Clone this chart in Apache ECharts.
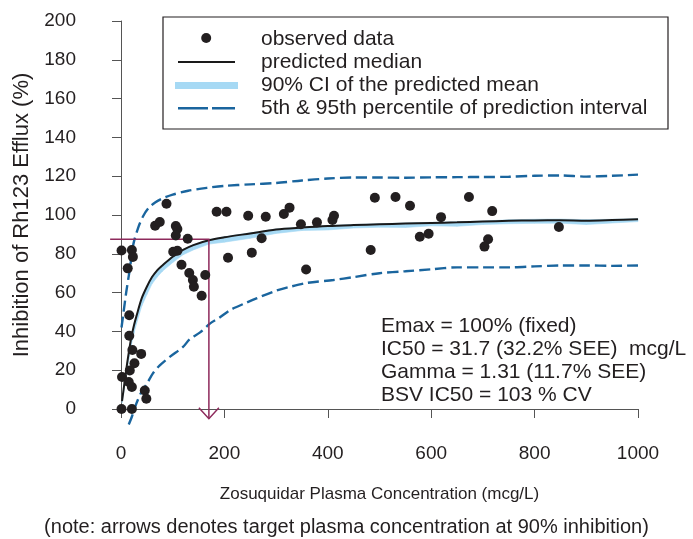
<!DOCTYPE html>
<html><head><meta charset="utf-8">
<script src="https://cdn.jsdelivr.net/npm/echarts@6/dist/echarts.min.js"></script>
<style>html,body{margin:0;padding:0;background:#fff}#c{width:693px;height:539px}</style>
</head><body><div id="c"></div>
<script>
// Observed data
const obsX = [1,21,23,13,16,16,22,39,26,17,2,15,21,46,49,1,21,88,66,75,106,109,106,129,101,109,117,132,139,141,156,163,185,204,207,246,253,272,280,315,326,348,358,379,409,412,483,491,531,559,578,595,619,673,718,710,703,847];
const obsY = [81.7,82,78.4,72.5,48.3,37.8,30.4,28.4,23.6,19.8,16.5,13.9,11.3,9.5,5.3,0,0,105.8,94.5,96.4,94.3,92.8,89.4,87.8,81.1,81.6,74.4,70.1,66.5,63,58.4,69.1,101.7,101.7,78,99.6,80.6,88,99.1,100.5,103.8,95.2,71.9,96.2,97.4,99.6,82,108.9,109.3,104.8,88.8,90.3,98.9,109.3,102,87.5,83.7,93.8];

// Predicted median and 90% CI of predicted mean
const curveX   = [2,5,10,15,20,25,30,40,50,60,70,80,100,120,140,170,200,250,300,350,400,450,500,550,600,650,700,750,800,850,900,950,1000];
const medianY  = [4,10,20,29,37,43,48,57,63,68,71.5,74,78.5,82,84.5,87,88.5,90.5,92.5,93.5,94.3,94.8,95.2,95.6,95.9,96.2,96.6,97,97.2,97.3,97.1,97.4,97.8];
const ciLowerY = [3,8,17,25.5,33,39,44,53,59,64.5,68,71,75.5,79.5,82,85,86,88,90.5,92,92.3,93.3,93.7,93.6,94.4,94.2,95.1,95.5,95.7,95.8,95.1,95.9,96.6];
const ciUpperY = [4.3,10.3,20.3,29.3,37.3,43.3,48.3,57.3,63.3,68.3,71.8,74.3,78.8,82.3,84.8,87.3,88.8,90.8,92.8,93.8,94.6,95.1,95.5,95.9,96.2,96.5,96.9,97.5,97.8,97.9,97.6,97.8,98.1];

// 5th & 95th percentile of prediction interval
const upperPIX = [1,5,10,17,24,34,43,53,66,80,100,130,166,200,250,300,350,400,450,500,550,600,650,700,750,800,850,900,950,1000];
const upperPIY = [42,50,60,72,85,94,99.5,103.5,106.5,108.5,110.5,112.5,114,115,115.8,116.5,117.8,118.8,119.3,119.3,119.2,119.4,119.5,119.6,119.7,120.2,120.4,119.8,120.2,120.8];
const lowerPIX = [15,21,30,40,49,62,75,95,120,133,153,172,190,211,240,262,300,327,360,411,450,500,550,600,650,700,750,800,850,900,950,1000];
const lowerPIY = [-8,-4,3,9,12.5,18.5,22.5,27,32,36,39.5,44,47,51,54.5,57,61,63,65,66.5,68,70,71,72,73,73,73,73.5,74,74,73.8,74];

// Target annotation (90% inhibition)
const targetConc = 170;
const targetLevel = 87.5;
const arrowFromX = -21;
const arrowToY = -5;

const FONT = "'Liberation Sans', Arial, Helvetica, sans-serif";
const TXT = '#231f20';
const AX = '#555555';
const BLUE = '#1a659e';
const CI = '#a6d9f4';
const MAROON = '#8e2a5c';

const zip = (xs, ys) => xs.map((x, i) => [x, ys[i]]);

const bounds = 'M0,0L0,0M81,12L81,12';
const icons = {
  dot: 'path://' + bounds + 'M36.2,5A5,5,0,1,1,26.2,5A5,5,0,1,1,36.2,5Z',
  med: 'path://' + bounds + 'M3,5L60,5L60,7L3,7Z',
  ci: 'path://' + bounds + 'M0,3L63,3L63,10L0,10Z',
  dash: 'path://' + bounds + 'M3,5L33,5L33,7.5L3,7.5ZM37,5L60,5L60,7.5L37,7.5Z'
};

const chart = echarts.init(document.getElementById('c'));
chart.setOption({
  animation: false,
  backgroundColor: '#ffffff',
  textStyle: { fontFamily: FONT },
  grid: { left: 121, right: 55, top: 21, bottom: 130, containLabel: false },
  xAxis: {
    type: 'value', min: 0, max: 1000, interval: 200, offset: 15,
    axisLine: { show: true, lineStyle: { color: AX, width: 1 } },
    axisTick: { show: true, length: 9, lineStyle: { color: AX } },
    axisLabel: { fontSize: 19, color: TXT, margin: 20, fontFamily: FONT, formatter: v => String(v) },
    splitLine: { show: false },
    name: 'Zosuquidar Plasma Concentration (mcg/L)', nameLocation: 'middle', nameGap: 62,
    nameTextStyle: { fontSize: 17, color: TXT, fontFamily: FONT }
  },
  yAxis: {
    type: 'value', min: 0, max: 200, interval: 20, offset: 24,
    axisLine: { show: true, lineStyle: { color: AX, width: 1 } },
    axisTick: { show: true, length: 9, lineStyle: { color: AX } },
    axisLabel: { fontSize: 19, color: TXT, margin: 21, fontFamily: FONT },
    splitLine: { show: false },
    name: 'Inhibition of Rh123 Efflux (%)', nameLocation: 'middle', nameGap: 56,
    nameTextStyle: { fontSize: 22, color: TXT, fontFamily: FONT }
  },
  legend: {
    orient: 'vertical', left: 175, top: 28.5, padding: 0, itemWidth: 81, itemHeight: 12, itemGap: 2,
    selectedMode: false,
    textStyle: { fontSize: 21, lineHeight: 21, color: TXT, fontFamily: FONT },
    data: [
      { name: 'observed data', icon: icons.dot, itemStyle: { color: TXT, borderWidth: 0 } },
      { name: 'predicted median', icon: icons.med, itemStyle: { color: '#1a1a1a', borderWidth: 0 } },
      { name: '90% CI of the predicted mean', icon: icons.ci, itemStyle: { color: CI, borderWidth: 0 } },
      { name: '5th & 95th percentile of prediction interval', icon: icons.dash, itemStyle: { color: BLUE, borderWidth: 0 } }
    ]
  },
  graphic: [
    { type: 'rect', shape: { x: 163, y: 17, width: 505, height: 112 }, style: { fill: 'none', stroke: TXT, lineWidth: 1.2 }, z: 10 },
    { type: 'text', left: 381, top: 315, z: 10, style: { text: 'Emax = 100% (fixed)\nIC50 = 31.7 (32.2% SEE)  mcg/L\nGamma = 1.31 (11.7% SEE)\nBSV IC50 = 103 % CV', font: '21px ' + FONT, lineHeight: 23, fill: TXT } },
    { type: 'text', left: 'center', top: 517, style: { text: '(note: arrows denotes target plasma concentration at 90% inhibition)', font: '20px ' + FONT, fill: TXT } }
  ],
  series: [
    {
      name: '90% CI of the predicted mean', type: 'custom', clip: false, silent: true, z: 2,
      data: curveX.map((x, i) => [x, ciLowerY[i], ciUpperY[i]]),
      itemStyle: { color: CI },
      renderItem: (params, api) => {
        const i = params.dataIndex;
        if (i >= curveX.length - 1) return null;
        const a = api.coord([curveX[i], ciUpperY[i]]);
        const b = api.coord([curveX[i + 1], ciUpperY[i + 1]]);
        const c = api.coord([curveX[i + 1], ciLowerY[i + 1]]);
        const d = api.coord([curveX[i], ciLowerY[i]]);
        return { type: 'polygon', shape: { points: [a, b, c, d] }, style: { fill: CI, stroke: CI, lineWidth: 0.6 } };
      }
    },
    { name: '5th & 95th percentile of prediction interval', type: 'line', data: zip(upperPIX, upperPIY), showSymbol: false, symbol: 'none', smooth: 0.3, lineStyle: { color: BLUE, width: 2.4, type: [11, 5] }, itemStyle: { color: BLUE }, clip: false, z: 3 },
    { name: '5th & 95th percentile of prediction interval', type: 'line', data: zip(lowerPIX, lowerPIY), showSymbol: false, symbol: 'none', smooth: 0.3, lineStyle: { color: BLUE, width: 2.4, type: [11, 5] }, itemStyle: { color: BLUE }, clip: false, z: 3 },
    { name: 'predicted median', type: 'line', data: zip(curveX, medianY), showSymbol: false, symbol: 'none', smooth: 0.3, lineStyle: { color: '#1a1a1a', width: 2 }, itemStyle: { color: '#1a1a1a' }, clip: false, z: 4 },
    {
      name: 'target', type: 'custom', clip: false, silent: true, z: 5,
      data: [[targetConc, targetLevel]],
      renderItem: (params, api) => {
        const p0 = api.coord([arrowFromX, targetLevel]);
        const p1 = api.coord([targetConc, targetLevel]);
        const p2 = api.coord([targetConc, arrowToY]);
        const st = { stroke: MAROON, lineWidth: 1.5, fill: 'none' };
        return { type: 'group', children: [
          { type: 'polyline', shape: { points: [p0, p1, p2] }, style: st },
          { type: 'polyline', shape: { points: [[p2[0] - 10, p2[1] - 11], p2, [p2[0] + 10, p2[1] - 11]] }, style: st }
        ] };
      }
    },
    { name: 'observed data', type: 'scatter', data: zip(obsX, obsY), symbol: 'circle', symbolSize: 10, itemStyle: { color: TXT, opacity: 1 }, clip: false, z: 6 }
  ]
});
</script></body></html>
